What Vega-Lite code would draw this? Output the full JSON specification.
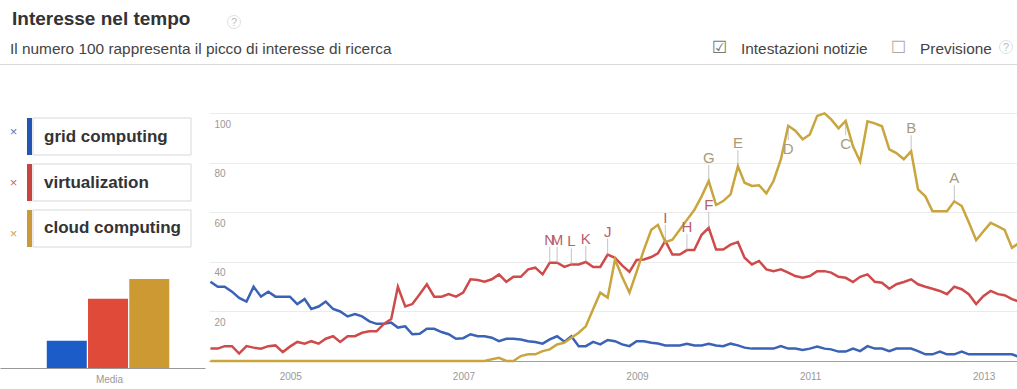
{
  "$schema": "https://vega.github.io/schema/vega-lite/v6.json",
  "padding": {"left": 0, "top": 10, "right": 0, "bottom": 0},
  "background": "white",
  "config": {"view": {"stroke": null}, "font": "Liberation Sans", "concat": {"spacing": 0}},
  "title": {"text": "Interesse nel tempo", "anchor": "start", "dx": 12, "fontSize": 19, "fontWeight": "bold", "color": "#333333", "baseline": "top", "offset": -15.5},
  "datasets": {
    "one": [{"k": 1}],
    "avg": [
      {"series": "grid computing", "avg": 11},
      {"series": "virtualization", "avg": 28},
      {"series": "cloud computing", "avg": 36}
    ],
    "ann": [
      {"d": "2007-12-01", "s": "v", "letter": "N", "value": 39.7},
      {"d": "2008-01-01", "s": "v", "letter": "M", "value": 39.7},
      {"d": "2008-03-01", "s": "v", "letter": "L", "value": 39},
      {"d": "2008-05-01", "s": "v", "letter": "K", "value": 40},
      {"d": "2008-08-01", "s": "v", "letter": "J", "value": 43},
      {"d": "2009-04-01", "s": "v", "letter": "I", "value": 48.5},
      {"d": "2009-07-01", "s": "v", "letter": "H", "value": 44.8},
      {"d": "2009-10-01", "s": "v", "letter": "F", "value": 53.8},
      {"d": "2009-10-01", "s": "c", "letter": "G", "value": 72.7},
      {"d": "2010-02-01", "s": "c", "letter": "E", "value": 78.7},
      {"d": "2010-09-01", "s": "c", "letter": "D", "value": 95},
      {"d": "2011-05-01", "s": "c", "letter": "C", "value": 97},
      {"d": "2012-02-01", "s": "c", "letter": "B", "value": 84.7},
      {"d": "2012-08-01", "s": "c", "letter": "A", "value": 64.5}
    ],
    "trend": [
      {"d":"2004-01-01","g":32,"v":5,"c":0},
      {"d":"2004-02-01","g":30,"v":5,"c":0},
      {"d":"2004-03-01","g":30,"v":6,"c":0},
      {"d":"2004-04-01","g":28,"v":6,"c":0},
      {"d":"2004-05-01","g":25.5,"v":3,"c":0},
      {"d":"2004-06-01","g":24,"v":6,"c":0},
      {"d":"2004-07-01","g":30,"v":5.4,"c":0},
      {"d":"2004-08-01","g":26,"v":5,"c":0},
      {"d":"2004-09-01","g":28,"v":6,"c":0},
      {"d":"2004-10-01","g":26,"v":6.3,"c":0},
      {"d":"2004-11-01","g":26,"v":3.6,"c":0},
      {"d":"2004-12-01","g":26,"v":5.8,"c":0},
      {"d":"2005-01-01","g":23,"v":7.7,"c":0},
      {"d":"2005-02-01","g":25,"v":7,"c":0},
      {"d":"2005-03-01","g":21,"v":8,"c":0},
      {"d":"2005-04-01","g":22,"v":7,"c":0},
      {"d":"2005-05-01","g":24,"v":9,"c":0},
      {"d":"2005-06-01","g":21,"v":10,"c":0},
      {"d":"2005-07-01","g":20,"v":7.7,"c":0},
      {"d":"2005-08-01","g":18,"v":10,"c":0},
      {"d":"2005-09-01","g":19,"v":10,"c":0},
      {"d":"2005-10-01","g":18,"v":11.4,"c":0},
      {"d":"2005-11-01","g":16,"v":12,"c":0},
      {"d":"2005-12-01","g":15,"v":12,"c":0},
      {"d":"2006-01-01","g":15,"v":15,"c":0},
      {"d":"2006-02-01","g":15.5,"v":17,"c":0},
      {"d":"2006-03-01","g":13.5,"v":30,"c":0},
      {"d":"2006-04-01","g":14,"v":22,"c":0},
      {"d":"2006-05-01","g":10.8,"v":23,"c":0},
      {"d":"2006-06-01","g":11,"v":27,"c":0},
      {"d":"2006-07-01","g":13,"v":31,"c":0},
      {"d":"2006-08-01","g":13,"v":26,"c":0},
      {"d":"2006-09-01","g":11.7,"v":26,"c":0},
      {"d":"2006-10-01","g":10.8,"v":27,"c":0},
      {"d":"2006-11-01","g":9,"v":26,"c":0},
      {"d":"2006-12-01","g":9.2,"v":27.6,"c":0},
      {"d":"2007-01-01","g":10.8,"v":33,"c":0},
      {"d":"2007-02-01","g":10,"v":32.7,"c":0},
      {"d":"2007-03-01","g":10,"v":32,"c":0},
      {"d":"2007-04-01","g":9.4,"v":33,"c":0.7},
      {"d":"2007-05-01","g":8,"v":35,"c":1.3},
      {"d":"2007-06-01","g":9,"v":32,"c":0},
      {"d":"2007-07-01","g":9,"v":34,"c":0},
      {"d":"2007-08-01","g":8.7,"v":34,"c":2},
      {"d":"2007-09-01","g":8,"v":37,"c":2.7},
      {"d":"2007-10-01","g":7.7,"v":37.7,"c":2.7},
      {"d":"2007-11-01","g":7,"v":35,"c":4},
      {"d":"2007-12-01","g":8.7,"v":39.7,"c":4.7},
      {"d":"2008-01-01","g":10,"v":39.7,"c":6.7},
      {"d":"2008-02-01","g":7.8,"v":38,"c":7.4},
      {"d":"2008-03-01","g":10,"v":39,"c":9.4},
      {"d":"2008-04-01","g":6,"v":39,"c":11.4},
      {"d":"2008-05-01","g":6,"v":40,"c":14},
      {"d":"2008-06-01","g":7.7,"v":38,"c":21},
      {"d":"2008-07-01","g":6.7,"v":38,"c":27.6},
      {"d":"2008-08-01","g":8.5,"v":43,"c":25.6},
      {"d":"2008-09-01","g":8,"v":41.7,"c":41},
      {"d":"2008-10-01","g":6.7,"v":38.6,"c":34},
      {"d":"2008-11-01","g":6,"v":36,"c":27.6},
      {"d":"2008-12-01","g":8,"v":40.8,"c":36},
      {"d":"2009-01-01","g":8,"v":41,"c":45},
      {"d":"2009-02-01","g":7.4,"v":42,"c":53},
      {"d":"2009-03-01","g":7.1,"v":43.5,"c":55},
      {"d":"2009-04-01","g":6.3,"v":48.5,"c":48},
      {"d":"2009-05-01","g":6.3,"v":43,"c":49},
      {"d":"2009-06-01","g":6.3,"v":43,"c":53},
      {"d":"2009-07-01","g":7,"v":44.8,"c":57},
      {"d":"2009-08-01","g":6.3,"v":44.8,"c":61},
      {"d":"2009-09-01","g":6.3,"v":51,"c":66.5},
      {"d":"2009-10-01","g":7,"v":53.8,"c":72.7},
      {"d":"2009-11-01","g":6.3,"v":45,"c":63},
      {"d":"2009-12-01","g":6,"v":45,"c":64.6},
      {"d":"2010-01-01","g":7,"v":47,"c":67.3},
      {"d":"2010-02-01","g":6.3,"v":48,"c":78.7},
      {"d":"2010-03-01","g":5.4,"v":41.7,"c":72},
      {"d":"2010-04-01","g":5,"v":39,"c":70.7},
      {"d":"2010-05-01","g":5,"v":40.4,"c":71},
      {"d":"2010-06-01","g":5,"v":37,"c":67.7},
      {"d":"2010-07-01","g":5,"v":36.3,"c":72.7},
      {"d":"2010-08-01","g":6,"v":37,"c":81.4},
      {"d":"2010-09-01","g":5,"v":35.7,"c":95},
      {"d":"2010-10-01","g":5,"v":34.3,"c":93},
      {"d":"2010-11-01","g":4.5,"v":33.6,"c":89.5},
      {"d":"2010-12-01","g":5,"v":34.3,"c":91.5},
      {"d":"2011-01-01","g":5.8,"v":36.3,"c":99},
      {"d":"2011-02-01","g":5,"v":36.3,"c":100},
      {"d":"2011-03-01","g":4.7,"v":35.7,"c":97.6},
      {"d":"2011-04-01","g":3.8,"v":34,"c":94},
      {"d":"2011-05-01","g":3.8,"v":33.6,"c":97},
      {"d":"2011-06-01","g":5,"v":31.9,"c":86.7},
      {"d":"2011-07-01","g":4,"v":34,"c":80.6},
      {"d":"2011-08-01","g":6,"v":35,"c":96.8},
      {"d":"2011-09-01","g":5,"v":32,"c":96},
      {"d":"2011-10-01","g":5,"v":31.6,"c":94.8},
      {"d":"2011-11-01","g":4,"v":29.2,"c":85.5},
      {"d":"2011-12-01","g":5,"v":31,"c":84},
      {"d":"2012-01-01","g":5,"v":31.9,"c":81.5},
      {"d":"2012-02-01","g":5,"v":33,"c":84.7},
      {"d":"2012-03-01","g":4,"v":31,"c":69.3},
      {"d":"2012-04-01","g":2.7,"v":30,"c":66.5},
      {"d":"2012-05-01","g":2.7,"v":29.2,"c":60.5},
      {"d":"2012-06-01","g":3.8,"v":28.3,"c":60.5},
      {"d":"2012-07-01","g":2.7,"v":27,"c":60.5},
      {"d":"2012-08-01","g":2.7,"v":30,"c":64.5},
      {"d":"2012-09-01","g":3.8,"v":29,"c":62.6},
      {"d":"2012-10-01","g":2.7,"v":27,"c":56},
      {"d":"2012-11-01","g":2.7,"v":23,"c":48.8},
      {"d":"2012-12-01","g":2.7,"v":26.2,"c":52.3},
      {"d":"2013-01-01","g":2.7,"v":28.3,"c":55.8},
      {"d":"2013-02-01","g":2.7,"v":27,"c":54.4},
      {"d":"2013-03-01","g":2.7,"v":26.6,"c":53},
      {"d":"2013-04-01","g":2.7,"v":25,"c":45.7},
      {"d":"2013-05-01","g":1.7,"v":24,"c":47.7}
    ]
  },
  "vconcat": [
    {
      "hconcat": [
        {"width": 222, "height": 1, "view": {"fill": "#d9d9d9"}, "data": {"name": "one"}, "mark": {"type": "text", "text": ""}, "encoding": {},
         "title": {"text": "Il numero 100 rappresenta il picco di interesse di ricerca", "anchor": "start", "dx": 10, "fontSize": 15.4, "fontWeight": "normal", "color": "#444444", "baseline": "alphabetic", "offset": -11}},
        {"width": 24, "height": 1, "view": {"fill": "#d9d9d9"}, "data": {"name": "one"},
         "mark": {"type": "point", "shape": "circle", "size": 169, "filled": false, "stroke": "#d4d4d4", "strokeWidth": 1, "yOffset": -42.5}, "encoding": {},
         "title": {"text": "?", "anchor": "middle", "frame": "group", "fontSize": 11, "fontWeight": "normal", "color": "#bbbbbb", "baseline": "alphabetic", "offset": -11, "dy": 12}},
        {"width": 462, "height": 1, "view": {"fill": "#d9d9d9"}, "data": {"name": "one"}, "mark": {"type": "text", "text": ""}, "encoding": {}},
        {"width": 30, "height": 1, "view": {"fill": "#d9d9d9"}, "data": {"name": "one"}, "mark": {"type": "text", "text": ""}, "encoding": {},
         "title": {"text": "☑", "anchor": "start", "dx": 4, "font": "DejaVu Sans", "fontSize": 17, "fontWeight": "normal", "color": "#777777", "baseline": "alphabetic", "offset": -11}},
        {"width": 152, "height": 1, "view": {"fill": "#d9d9d9"}, "data": {"name": "one"}, "mark": {"type": "text", "text": ""}, "encoding": {},
         "title": {"text": "Intestazioni notizie", "anchor": "start", "dx": 3, "fontSize": 15.4, "fontWeight": "normal", "color": "#444444", "baseline": "alphabetic", "offset": -11}},
        {"width": 26, "height": 1, "view": {"fill": "#d9d9d9"}, "data": {"name": "one"}, "mark": {"type": "text", "text": ""}, "encoding": {},
         "title": {"text": "☐", "anchor": "start", "dx": 1, "font": "DejaVu Sans", "fontSize": 17, "fontWeight": "normal", "color": "#aaaaaa", "baseline": "alphabetic", "offset": -11}},
        {"width": 79, "height": 1, "view": {"fill": "#d9d9d9"}, "data": {"name": "one"}, "mark": {"type": "text", "text": ""}, "encoding": {},
         "title": {"text": "Previsione", "anchor": "start", "dx": 4, "fontSize": 15.4, "fontWeight": "normal", "color": "#444444", "baseline": "alphabetic", "offset": -11}},
        {"width": 22, "height": 1, "view": {"fill": "#d9d9d9"}, "data": {"name": "one"},
         "mark": {"type": "point", "shape": "circle", "size": 169, "filled": false, "stroke": "#d4d4d4", "strokeWidth": 1, "yOffset": -17.5}, "encoding": {},
         "title": {"text": "?", "anchor": "middle", "frame": "group", "fontSize": 11, "fontWeight": "normal", "color": "#bbbbbb", "baseline": "alphabetic", "offset": -11, "dy": 12}}
      ],
      "spacing": 0,
      "bounds": "flush",
      "resolve": {"scale": {"color": "independent", "fill": "independent", "stroke": "independent"}}
    },
    {
      "hconcat": [
        {
          "vconcat": [
            {
              "hconcat": [
                {"width": 27, "height": 153, "data": {"name": "avg"},
                 "mark": {"type": "text", "fontSize": 13},
                 "encoding": {
                   "y": {"field": "series", "type": "nominal", "scale": {"domain": ["grid computing", "virtualization", "cloud computing"], "paddingInner": 0.1957, "paddingOuter": 0.261}, "axis": null},
                   "text": {"value": "×"},
                   "fill": {"field": "series", "type": "nominal", "scale": {"domain": ["grid computing", "virtualization", "cloud computing"], "range": ["#5a78b5", "#c46a6a", "#c9a458"]}, "legend": null}
                 }},
                {"width": 5, "height": 153, "data": {"name": "avg"},
                 "mark": {"type": "rect"},
                 "encoding": {
                   "y": {"field": "series", "type": "nominal", "scale": {"domain": ["grid computing", "virtualization", "cloud computing"], "paddingInner": 0.1957, "paddingOuter": 0.261}, "axis": null},
                   "color": {"field": "series", "type": "nominal", "scale": {"domain": ["grid computing", "virtualization", "cloud computing"], "range": ["#2356b4", "#c8453f", "#c99a38"]}, "legend": null}
                 }},
                {"width": 158, "height": 153, "data": {"name": "avg"},
                 "encoding": {
                   "y": {"field": "series", "type": "nominal", "scale": {"domain": ["grid computing", "virtualization", "cloud computing"], "paddingInner": 0.1957, "paddingOuter": 0.261}, "axis": null}
                 },
                 "layer": [
                   {"mark": {"type": "rect", "fill": "white", "stroke": "#d8d8d8", "strokeWidth": 1}},
                   {"mark": {"type": "text", "align": "left", "dx": -68, "fontSize": 17, "fontWeight": "bold", "fill": "#333333"},
                    "encoding": {"text": {"field": "series", "type": "nominal"}}}
                 ]}
              ],
              "spacing": 0,
              "resolve": {"scale": {"color": "independent", "fill": "independent", "stroke": "independent"}}
            },
            {"width": 205, "height": 99, "data": {"name": "avg"},
             "mark": {"type": "bar"},
             "encoding": {
               "x": {"field": "series", "type": "nominal", "sort": ["grid computing", "virtualization", "cloud computing"],
                     "scale": {"paddingInner": 0.03, "paddingOuter": 1.046, "align": 0.567},
                     "axis": {"labels": false, "ticks": false, "tickSize": 0, "domainColor": "#999999", "title": "Media", "titleFontSize": 10, "titleFontWeight": "normal", "titleColor": "#999999", "titlePadding": 6, "titleX": 109}},
               "y": {"field": "avg", "type": "quantitative", "scale": {"domain": [0, 40], "nice": false}, "axis": null},
               "color": {"field": "series", "type": "nominal", "scale": {"domain": ["grid computing", "virtualization", "cloud computing"], "range": ["#1b5cc9", "#e04a38", "#cc9933"]}, "legend": null}
             }}
          ],
          "spacing": 10,
          "resolve": {"scale": {"color": "independent", "fill": "independent", "stroke": "independent"}}
        },
        {
          "width": 812, "height": 255,
          "layer": [
            {
              "data": {"name": "trend"},
              "transform": [{"fold": ["g", "v", "c"], "as": ["s", "value"]}],
              "mark": {"type": "line", "strokeWidth": 2.5},
              "encoding": {
                "x": {"field": "d", "type": "temporal",
                      "scale": {"type": "utc", "domain": [{"year": 2003, "month": 12, "date": 26, "utc": true}, {"year": 2013, "month": 5, "date": 9, "utc": true}]},
                      "axis": {"values": [{"year": 2005, "month": 1, "date": 1, "utc": true}, {"year": 2007, "month": 1, "date": 1, "utc": true}, {"year": 2009, "month": 1, "date": 1, "utc": true}, {"year": 2011, "month": 1, "date": 1, "utc": true}, {"year": 2013, "month": 1, "date": 1, "utc": true}],
                               "format": "%Y", "grid": false, "ticks": false, "tickSize": 0, "domainColor": "#a0a0a0", "labelColor": "#999999", "labelFontSize": 10, "labelPadding": 10, "labelOffset": -7, "title": null}},
                "y": {"field": "value", "type": "quantitative",
                      "scale": {"domain": [0, 103], "nice": false},
                      "axis": {"values": [20, 40, 60, 80, 100], "grid": true, "gridColor": "#ebebeb", "domain": false, "ticks": false, "tickSize": 0, "labelAlign": "left", "labelBaseline": "top", "labelPadding": -5, "labelOffset": 6, "labelColor": "#999999", "labelFontSize": 10, "title": null}},
                "stroke": {"field": "s", "type": "nominal", "scale": {"domain": ["g", "v", "c"], "range": ["#3a62b5", "#cf4b4b", "#c9a53e"]}, "legend": null}
              }
            },
            {
              "data": {"name": "ann"},
              "transform": [{"filter": {"not": {"field": "letter", "oneOf": ["C", "D"]}}}],
              "mark": {"type": "tick", "orient": "vertical", "size": 16, "thickness": 1, "yOffset": -8, "color": "#aaaaaa"},
              "encoding": {
                "x": {"field": "d", "type": "temporal"},
                "y": {"field": "value", "type": "quantitative"}
              }
            },
            {
              "data": {"name": "ann"},
              "transform": [{"filter": {"not": {"field": "letter", "oneOf": ["C", "D"]}}}],
              "mark": {"type": "text", "baseline": "alphabetic", "dy": -18, "fontSize": 15},
              "encoding": {
                "x": {"field": "d", "type": "temporal"},
                "y": {"field": "value", "type": "quantitative"},
                "text": {"field": "letter", "type": "nominal"},
                "fill": {"field": "s", "type": "nominal", "scale": {"domain": ["v", "c"], "range": ["#b8606e", "#a89a7a"]}, "legend": null}
              }
            },
            {
              "data": {"name": "ann"},
              "transform": [{"filter": {"field": "letter", "oneOf": ["C", "D"]}}],
              "mark": {"type": "tick", "orient": "vertical", "size": 15, "thickness": 1, "yOffset": 7, "color": "#aaaaaa"},
              "encoding": {
                "x": {"field": "d", "type": "temporal"},
                "y": {"field": "value", "type": "quantitative"}
              }
            },
            {
              "data": {"name": "ann"},
              "transform": [{"filter": {"field": "letter", "oneOf": ["C", "D"]}}],
              "mark": {"type": "text", "baseline": "top", "dy": 16, "fontSize": 15},
              "encoding": {
                "x": {"field": "d", "type": "temporal"},
                "y": {"field": "value", "type": "quantitative"},
                "text": {"field": "letter", "type": "nominal"},
                "fill": {"field": "s", "type": "nominal", "scale": {"domain": ["v", "c"], "range": ["#b8606e", "#a89a7a"]}, "legend": null}
              }
            }
          ]
        }
      ],
      "spacing": 0,
      "resolve": {"scale": {"color": "independent", "fill": "independent", "stroke": "independent"}}
    }
  ],
  "spacing": 36,
  "resolve": {"scale": {"color": "independent", "fill": "independent", "stroke": "independent"}}
}
